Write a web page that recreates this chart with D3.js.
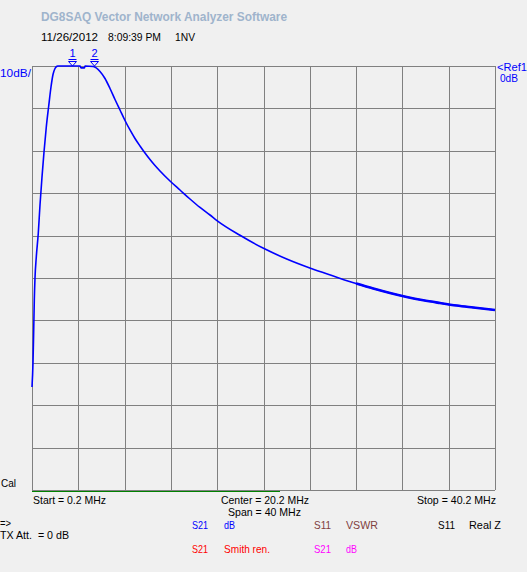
<!DOCTYPE html>
<html><head><meta charset="utf-8">
<script src="https://cdn.jsdelivr.net/npm/d3@7"></script>
<style>html,body{margin:0;padding:0;background:#f0f0f0;}svg{display:block;}text{white-space:pre;}</style>
</head><body>
<script>
// ---- data ----
const freqMHz = [0.2,0.286,0.347,0.399,0.459,0.571,0.744,0.891,1.064,1.237,1.435,1.643,1.841,2.014,2.187,2.36,2.446,
  4.347,4.433,4.736,4.779,5.496,6.075,6.507,6.939,7.371,7.803,8.235,8.667,9.098,9.530,9.962,10.394,10.826,11.258,
  12.122,12.986,13.850,14.714,15.578,16.209,18.171,20.201,22.205,24.201,26.231,28.200,29.686,31.129,32.572,34.006,
  35.448,36.891,38.325,40.2];
const s21dB = [-75.7,-70.05,-62.26,-55.19,-50.0,-45.05,-39.39,-32.78,-26.18,-20.28,-14.39,-9.43,-4.95,-2.0,-0.59,-0.07,0,
  0,-0.45,-0.45,0,-0.12,-1.30,-2.95,-5.31,-7.90,-10.38,-12.85,-15.09,-17.10,-18.87,-20.52,-22.05,-23.47,-24.76,
  -27.12,-29.25,-31.37,-33.37,-35.14,-36.51,-39.93,-43.00,-45.52,-47.64,-49.53,-51.30,-52.48,-53.54,-54.48,-55.26,
  -55.90,-56.49,-56.96,-57.55];
const markerNames = ["1","2"];
const markerFreqs = [3.67,5.57];
const xDomain = [0.2, 40.2];
const yDomain = [-100, 0];
const xDivisions = 10, yDivisions = 10;

const W = 527, H = 572;
const svg = d3.select("body").append("svg").attr("width", W).attr("height", H);
svg.append("rect").attr("width", W).attr("height", H).attr("fill", "#f0f0f0");

const x = d3.scaleLinear().domain(xDomain).range([32, 495]);
const y = d3.scaleLinear().domain(yDomain).range([490, 66]);

const font = "'Liberation Sans', Arial, sans-serif";
function txt(s, px, py, color, len, opts = {}) {
  const t = svg.append("text").attr("x", px).attr("y", py).attr("fill", color)
    .attr("font-family", font).attr("font-size", opts.size || 11).text(s);
  if (opts.weight) t.attr("font-weight", opts.weight);
  if (len) t.attr("textLength", len).attr("lengthAdjust", "spacingAndGlyphs");
  if (opts.anchor) t.attr("text-anchor", opts.anchor);
  return t;
}

// grid
const g = svg.append("g").attr("shape-rendering", "crispEdges");
const xt = d3.range(xDivisions + 1).map(i => xDomain[0] + i * (xDomain[1] - xDomain[0]) / xDivisions);
const yt = d3.range(yDivisions + 1).map(i => yDomain[0] + i * (yDomain[1] - yDomain[0]) / yDivisions);
g.selectAll(".vx").data(xt).join("line")
  .attr("x1", d => Math.round(x(d)) + 0.5).attr("x2", d => Math.round(x(d)) + 0.5)
  .attr("y1", y(0)).attr("y2", y(-100)).attr("stroke", "#808080").attr("stroke-width", 1.3);
g.selectAll(".hy").data(yt).join("line")
  .attr("y1", d => Math.round(y(d)) + 0.5).attr("y2", d => Math.round(y(d)) + 0.5)
  .attr("x1", x(xDomain[0])).attr("x2", x(xDomain[1])).attr("stroke", "#808080").attr("stroke-width", 1.3);
// sweep progress bar
g.append("line").attr("x1", 32).attr("x2", x(21.6)).attr("y1", 491.5).attr("y2", 491.5)
  .attr("stroke", "#008000").attr("stroke-width", 1.5);

// curve
svg.append("clipPath").attr("id", "clip").append("rect")
  .attr("x", 30).attr("y", 64).attr("width", 468).attr("height", 430);
const pts = freqMHz.map((f, i) => [f, s21dB[i]]);
const line = d3.line().x(d => x(d[0])).y(d => y(d[1])).curve(d3.curveMonotoneX);
const cg = svg.append("g").attr("clip-path", "url(#clip)");
cg.append("path").attr("d", line(pts)).attr("fill", "none").attr("stroke", "#0000ff").attr("stroke-width", 1.6);
cg.append("path").attr("d", line(pts.filter(d => d[0] >= 28))).attr("fill", "none")
  .attr("stroke", "#0000ff").attr("stroke-width", 2.6);

// markers
markerFreqs.forEach((f, i) => {
  const mx = Math.round(x(f)) + 0.5;
  svg.append("path").attr("d", `M${mx-4},61.5 L${mx+4},61.5 L${mx},66 Z`).attr("fill", "none")
    .attr("stroke", "#0000ff").attr("stroke-width", 1);
  svg.append("line").attr("x1", mx-4).attr("x2", mx+4).attr("y1", 59.5).attr("y2", 59.5).attr("stroke", "#0000ff");
  txt(markerNames[i], mx, 57, "#0000ff", null, {anchor: "middle"});
});

// header texts
txt("DG8SAQ Vector Network Analyzer Software", 41, 21, "#9fb4cc", 246, {weight: "bold", size: 12});
txt("11/26/2012", 41, 41, "#000", 57);
txt("8:09:39 PM", 108, 41, "#000", 53);
txt("1NV", 175, 41, "#000", 20);

txt("10dB/", 0, 77, "#0000ff", 31);
txt("<Ref1", 497, 71, "#0000ff", 30);
txt("0dB", 500, 82, "#0000ff", 18);
txt("Cal", 1, 487, "#000", 15);

txt("Start = 0.2 MHz", 33, 504, "#000", 73);
txt("Center = 20.2 MHz", 221, 504, "#000", 88);
txt("Span = 40 MHz", 228, 516, "#000", 73);
txt("Stop = 40.2 MHz", 417, 504, "#000", 79);

txt("=>", 0, 527, "#000", 11);
txt("TX Att.  = 0 dB", 0, 539, "#000", 69);

txt("S21", 192, 529, "#0000ff", 16);
txt("dB", 224, 529, "#0000ff", 11);
txt("S11", 314, 529, "#804040", 17);
txt("VSWR", 346, 529, "#804040", 32);
txt("S11", 438, 529, "#000", 17);
txt("Real Z", 469, 529, "#000", 32);

txt("S21", 192, 553, "#ff0000", 16);
txt("Smith ren.", 224, 553, "#ff0000", 46);
txt("S21", 314, 553, "#ff00ff", 17);
txt("dB", 346, 553, "#ff00ff", 11);
</script>
</body></html>
